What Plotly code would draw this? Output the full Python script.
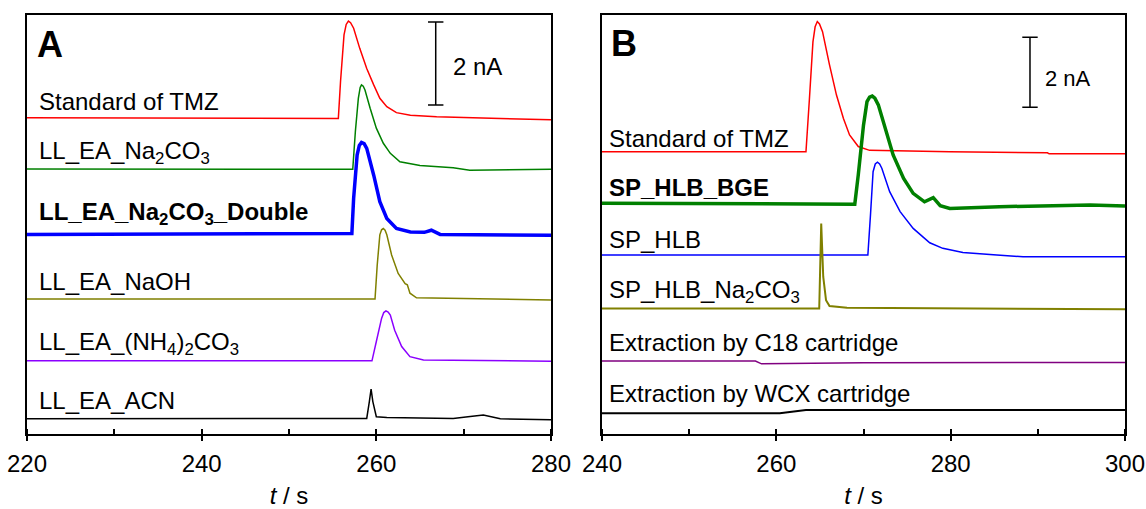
import plotly.graph_objects as go

# ---------------- Panel A data (t / s, signal in nA, stacked) ----------------
a_std_t = [220, 240, 255.65, 255.9, 256.3, 256.55, 256.8, 257.05, 257.4, 258.1, 258.9, 259.7, 260.4, 261.2, 262.3, 263.9, 266.9, 274.2, 280]
a_std_y = [7.52, 7.51, 7.50, 8.38, 9.49, 9.74, 9.82, 9.78, 9.65, 9.17, 8.69, 8.30, 7.98, 7.78, 7.64, 7.58, 7.54, 7.50, 7.47]

a_na2co3_t = [220, 257.3, 257.6, 257.94, 258.15, 258.3, 258.5, 258.7, 259.3, 260.0, 260.8, 261.6, 262.7, 265.0, 268.8, 270.7, 280]
a_na2co3_y = [6.30, 6.29, 7.19, 7.98, 8.24, 8.30, 8.27, 8.18, 7.74, 7.27, 6.91, 6.67, 6.47, 6.38, 6.33, 6.27, 6.29]

a_double_t = [220, 257.2, 257.4, 257.8, 258.05, 258.3, 258.6, 258.9, 259.7, 260.4, 261.2, 262.3, 263.9, 265.5, 266.3, 267.3, 280]
a_double_y = [4.74, 4.76, 5.60, 6.63, 6.86, 6.93, 6.90, 6.79, 6.15, 5.52, 5.12, 4.88, 4.80, 4.79, 4.84, 4.74, 4.72]

a_naoh_t = [220, 259.85, 260.1, 260.4, 260.6, 260.8, 261.0, 261.2, 261.75, 262.5, 263.3, 263.55, 263.85, 264.6, 280]
a_naoh_y = [3.20, 3.20, 4.01, 4.73, 4.85, 4.88, 4.84, 4.73, 4.25, 3.81, 3.57, 3.54, 3.34, 3.23, 3.18]

a_nh4_t = [220, 259.5, 260.0, 260.6, 260.85, 261.1, 261.35, 261.6, 262.1, 262.9, 263.85, 265.4, 280]
a_nh4_y = [1.73, 1.73, 2.19, 2.74, 2.88, 2.92, 2.89, 2.82, 2.46, 2.07, 1.83, 1.75, 1.72]

a_acn_t = [220, 258.9, 259.2, 259.4, 259.6, 260.0, 261.2, 268.8, 270.5, 272.25, 274.2, 280]
a_acn_y = [0.35, 0.36, 0.76, 1.06, 0.76, 0.40, 0.38, 0.36, 0.40, 0.44, 0.35, 0.33]

# ---------------- Panel B data ----------------
b_std_t = [240, 263.4, 263.8, 264.2, 264.45, 264.7, 264.95, 265.3, 266.1, 266.9, 267.7, 268.4, 269.4, 270.7, 279.9, 291.1, 291.3, 300]
b_std_y = [8.05, 8.05, 9.58, 11.19, 11.62, 11.77, 11.70, 11.48, 10.53, 9.67, 9.00, 8.53, 8.20, 8.09, 8.05, 8.02, 7.99, 7.99]

b_bge_t = [240, 269.0, 269.4, 270.0, 270.4, 270.7, 271.0, 271.3, 271.7, 272.5, 273.4, 274.6, 275.7, 277.0, 278.0, 278.8, 279.9, 285.6, 296, 300]
b_bge_y = [6.58, 6.55, 7.39, 8.81, 9.48, 9.61, 9.64, 9.58, 9.39, 8.72, 7.96, 7.29, 6.86, 6.62, 6.74, 6.51, 6.43, 6.48, 6.53, 6.50]

b_hlb_t = [240, 270.5, 270.8, 271.1, 271.35, 271.6, 271.85, 272.1, 273.0, 274.2, 275.7, 277.6, 279.1, 281.4, 285.3, 288.3, 300]
b_hlb_y = [5.10, 5.10, 6.24, 7.48, 7.70, 7.75, 7.70, 7.58, 6.91, 6.34, 5.86, 5.45, 5.29, 5.17, 5.10, 5.05, 5.05]

b_hlbna_t = [240, 264.92, 265.15, 265.38, 265.7, 266.1, 268.1, 300]
b_hlbna_y = [3.57, 3.57, 6.00, 4.48, 3.81, 3.64, 3.59, 3.55]

b_c18_t = [240, 257.6, 258.3, 262, 270, 300]
b_c18_y = [2.07, 2.07, 1.99, 2.00, 2.02, 2.03]

b_wcx_t = [240, 260.4, 263.4, 300]
b_wcx_y = [0.58, 0.58, 0.67, 0.67]

# labels
a_labels = ["Standard of TMZ", "LL_EA_Na<sub>2</sub>CO<sub>3</sub>",
            "<b>LL_EA_Na<sub>2</sub>CO<sub>3</sub>_Double</b>", "LL_EA_NaOH",
            "LL_EA_(NH<sub>4</sub>)<sub>2</sub>CO<sub>3</sub>", "LL_EA_ACN"]
a_label_y = [7.91, 6.69, 5.23, 3.62, 2.15, 0.78]
b_labels = ["Standard of TMZ", "<b>SP_HLB_BGE</b>", "SP_HLB",
            "SP_HLB_Na<sub>2</sub>CO<sub>3</sub>", "Extraction by C18 cartridge",
            "Extraction by WCX cartridge"]
b_label_y = [8.44, 7.03, 5.55, 4.06, 2.59, 1.13]

# scale bars (2 nA)
a_bar_t = [266.8, 266.8]
a_bar_y = [7.82, 9.80]
b_bar_t = [289.1, 289.1]
b_bar_y = [9.32, 11.32]

FONT = "Arial, Liberation Sans, sans-serif"

fig = go.Figure()

a_series = [
    (a_std_t, a_std_y, "#ff0000", 1.5),
    (a_na2co3_t, a_na2co3_y, "#008000", 1.5),
    (a_double_t, a_double_y, "#0000ff", 3.5),
    (a_naoh_t, a_naoh_y, "#808000", 1.5),
    (a_nh4_t, a_nh4_y, "#8b00ff", 1.5),
    (a_acn_t, a_acn_y, "#000000", 1.5),
]
b_series = [
    (b_std_t, b_std_y, "#ff0000", 1.5),
    (b_bge_t, b_bge_y, "#008000", 3.5),
    (b_hlb_t, b_hlb_y, "#0000ff", 1.5),
    (b_hlbna_t, b_hlbna_y, "#808000", 2.0),
    (b_c18_t, b_c18_y, "#800080", 1.5),
    (b_wcx_t, b_wcx_y, "#000000", 2.0),
]
for t, y, c, w in a_series:
    fig.add_trace(go.Scatter(x=t, y=y, mode="lines", line=dict(color=c, width=w),
                             xaxis="x", yaxis="y", showlegend=False, hoverinfo="skip"))
for t, y, c, w in b_series:
    fig.add_trace(go.Scatter(x=t, y=y, mode="lines", line=dict(color=c, width=w),
                             xaxis="x2", yaxis="y2", showlegend=False, hoverinfo="skip"))

for bt, by, xa, ya in [(a_bar_t, a_bar_y, "x", "y"), (b_bar_t, b_bar_y, "x2", "y2")]:
    fig.add_trace(go.Scatter(x=bt, y=by, mode="lines+markers",
                             line=dict(color="black", width=1.5),
                             marker=dict(symbol="line-ew-open", size=11,
                                         line=dict(color="black", width=1.5)),
                             xaxis=xa, yaxis=ya, showlegend=False, hoverinfo="skip"))

ann = []
for txt, yy in zip(a_labels, a_label_y):
    ann.append(dict(x=221.15, y=yy, xref="x", yref="y", text=txt, showarrow=False,
                    xanchor="left", yanchor="middle", font=dict(size=24, color="black", family=FONT)))
for txt, yy in zip(b_labels, b_label_y):
    ann.append(dict(x=240.6, y=yy, xref="x2", yref="y2", text=txt, showarrow=False,
                    xanchor="left", yanchor="middle", font=dict(size=24, color="black", family=FONT)))
ann.append(dict(x=220.9, y=9.27, xref="x", yref="y", text="<b>A</b>", showarrow=False,
                xanchor="left", yanchor="middle", font=dict(size=36, color="black", family=FONT)))
ann.append(dict(x=240.8, y=11.15, xref="x2", yref="y2", text="<b>B</b>", showarrow=False,
                xanchor="left", yanchor="middle", font=dict(size=36, color="black", family=FONT)))
ann.append(dict(x=268.5, y=8.73, xref="x", yref="y", text="2 nA", showarrow=False,
                xanchor="left", yanchor="middle", font=dict(size=24, color="black", family=FONT)))
ann.append(dict(x=290.6, y=10.15, xref="x2", yref="y2", text="2 nA", showarrow=False,
                xanchor="left", yanchor="middle", font=dict(size=22, color="black", family=FONT)))

W, H = 1146, 509
ydom = [1 - 433.5 / H, 1 - 15 / H]

def xax(dom, rng, ticks):
    return dict(domain=dom, range=rng, showline=True, mirror=True, linecolor="black",
                linewidth=1.5, showgrid=False, zeroline=False, automargin=False,
                tickvals=ticks, ticks="outside", ticklen=6, tickwidth=1.5, tickcolor="black",
                minor=dict(dtick=10, ticks="inside", ticklen=5, tickwidth=1.5, tickcolor="black"),
                tickfont=dict(size=24, color="black", family=FONT), ticklabelstandoff=2,
                title=dict(text="<i>t</i> / s", font=dict(size=24, color="black", family=FONT), standoff=14))

def yax(dom, rng, anchor):
    return dict(domain=dom, range=rng, showline=True, mirror=True, linecolor="black",
                linewidth=1.5, showgrid=False, zeroline=False, showticklabels=False,
                ticks="", anchor=anchor, automargin=False)

fig.update_layout(
    width=W, height=H, margin=dict(l=0, r=0, t=0, b=0, autoexpand=False),
    plot_bgcolor="white", paper_bgcolor="white",
    xaxis=dict(**xax([27 / W, 551 / W], [220, 280], [220, 240, 260, 280]), anchor="y"),
    yaxis=yax(ydom, [0, 418.5 / 42], "x"),
    xaxis2=dict(**xax([602 / W, 1125 / W], [240, 300], [240, 260, 280, 300]), anchor="y2"),
    yaxis2=yax(ydom, [0, 418.5 / 35], "x2"),
    annotations=ann,
)

fig.write_html("out.html", config={"displayModeBar": False},
               post_script="document.body.style.margin='0px';document.body.style.overflow='hidden';")
